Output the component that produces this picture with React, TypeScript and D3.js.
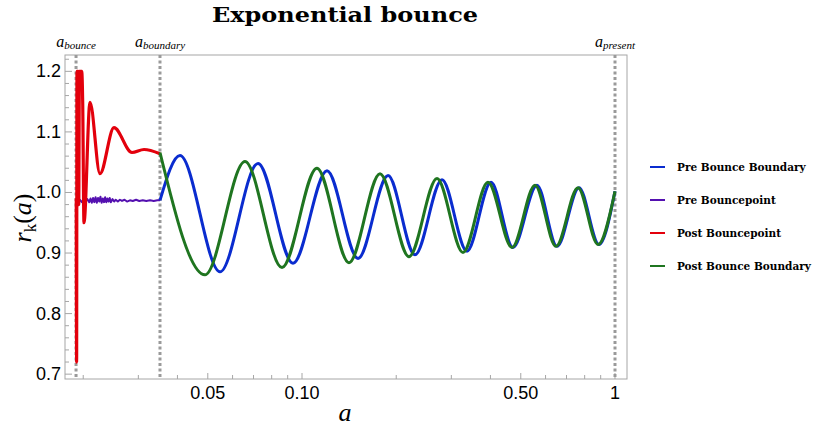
import React from "react";
import * as d3 from "d3";

// values (a on a log axis, r_k(a) on a linear one)
const preBoundaryA = [0.03518, 0.04075, 0.0547, 0.07237, 0.09359, 0.1202, 0.151, 0.1883, 0.2296, 0.2801, 0.3366, 0.4017, 0.4721, 0.5633, 0.6527, 0.7674, 0.8889, 1.0];
const preBoundaryR = [0.987, 1.061, 0.869, 1.048, 0.883, 1.036, 0.891, 1.028, 0.897, 1.021, 0.903, 1.017, 0.909, 1.012, 0.911, 1.008, 0.914, 1.002];

const postBoundaryA = [0.03518, 0.04898, 0.06574, 0.08631, 0.1116, 0.1413, 0.1775, 0.2197, 0.27, 0.3268, 0.3928, 0.4688, 0.5552, 0.6477, 0.7616, 0.8824, 1.0];
const postBoundaryR = [1.066, 0.864, 1.051, 0.876, 1.04, 0.884, 1.031, 0.894, 1.023, 0.901, 1.017, 0.909, 1.012, 0.911, 1.008, 0.914, 1.002];

const preBounceA = [0.01897, 0.0192, 0.0195, 0.0198, 0.02, 0.0203, 0.0206, 0.0209, 0.0211, 0.0213, 0.0215, 0.0217, 0.0219, 0.0221, 0.0223, 0.0225, 0.0227, 0.0229, 0.0231, 0.0233, 0.0235, 0.0237, 0.0239, 0.0241, 0.0243, 0.0245, 0.0248, 0.0251, 0.0254, 0.0258, 0.0262, 0.0266, 0.0271, 0.0276, 0.0282, 0.0288, 0.0295, 0.0302, 0.031, 0.0318, 0.0327, 0.0336, 0.0345, 0.03518];
const preBounceR = [0.988, 0.985, 0.988, 0.984, 0.987, 0.985, 0.989, 0.984, 0.990, 0.983, 0.991, 0.984, 0.992, 0.983, 0.991, 0.985, 0.993, 0.983, 0.990, 0.984, 0.992, 0.984, 0.990, 0.985, 0.991, 0.984, 0.989, 0.985, 0.988, 0.985, 0.988, 0.986, 0.988, 0.985, 0.987, 0.986, 0.988, 0.986, 0.987, 0.986, 0.987, 0.986, 0.987, 0.987];

const postBounceA = [0.019, 0.01905, 0.0191, 0.01925, 0.01935, 0.01945, 0.01978, 0.01992, 0.02011, 0.02102, 0.02262, 0.02508, 0.02863, 0.03128, 0.03518];
const postBounceR = [0.99, 0.72, 1.2, 1.2, 0.98, 1.2, 1.2, 1.15, 0.95, 1.149, 1.031, 1.107, 1.066, 1.071, 1.064];

const markerA = [0.01897, 0.03518, 1.0];
const markerSub = ["bounce", "boundary", "present"];

const seriesNames = ["Pre Bounce Boundary", "Pre Bouncepoint", "Post Bouncepoint", "Post Bounce Boundary"];
const seriesColors = ["#0a2ccf", "#5410b0", "#e3000c", "#1f7520"];

const xTickMajor = [0.05, 0.1, 0.5, 1];
const xTickLabels = ["0.05", "0.10", "0.50", "1"];
const xTickMinor = [0.02, 0.03, 0.04, 0.06, 0.07, 0.08, 0.09, 0.2, 0.3, 0.4, 0.6, 0.7, 0.8, 0.9];
const yTickMajor = [0.7, 0.8, 0.9, 1.0, 1.1, 1.2];

export default function App() {
  const width = 817;
  const height = 436;
  const left = 65, right = 627, top = 55, bottom = 379;

  const x = d3.scaleLog().domain([0.01749, 1.0923]).range([left, right]);
  const y = d3.scaleLinear().domain([0.692, 1.227]).range([bottom, top]);

  const yMinor = d3.range(0.7, 1.221, 0.02).filter((v) => Math.abs(v * 10 - Math.round(v * 10)) > 0.01);

  const smooth = d3.line<[number, number]>().x((d) => x(d[0])).y((d) => y(d[1])).curve(d3.curveMonotoneX);
  const straight = d3.line<[number, number]>().x((d) => x(d[0])).y((d) => y(d[1]));

  const zip = (a: number[], r: number[]) => a.map((v, i) => [v, r[i]] as [number, number]);

  const paths = [
    straight(zip(preBounceA, preBounceR)),
    smooth(zip(postBounceA, postBounceR)),
    smooth(zip(preBoundaryA, preBoundaryR)),
    smooth(zip(postBoundaryA, postBoundaryR)),
  ];
  const pathColors = [seriesColors[1], seriesColors[2], seriesColors[0], seriesColors[3]];
  const pathWidths = [2, 3.2, 3, 3];

  const axisColor = "#a6a6a6";
  const labelFont = "'Liberation Sans', Arial, sans-serif";
  const serif = "'Liberation Serif', 'DejaVu Serif', serif";

  return (
    <svg width={width} height={height} style={{ position: "absolute", left: 0, top: 0, background: "#fff" }}>
      <text x={345} y={22} textAnchor="middle" fontFamily="'DejaVu Serif', serif" fontWeight="bold" fontSize={21}
        textLength={266} lengthAdjust="spacingAndGlyphs">
        Exponential bounce
      </text>

      {/* frame */}
      <rect x={left} y={top} width={right - left} height={bottom - top} fill="none" stroke={axisColor} strokeWidth={1} />

      {/* y ticks */}
      {yTickMajor.map((v) => (
        <g key={"ym" + v}>
          <line x1={left} x2={left + 7} y1={y(v)} y2={y(v)} stroke={axisColor} />
          <text x={left - 4} y={y(v) + 6} textAnchor="end" fontFamily={labelFont} fontSize={18}>
            {v.toFixed(1)}
          </text>
        </g>
      ))}
      {yMinor.map((v) => (
        <line key={"yn" + v} x1={left} x2={left + 4} y1={y(v)} y2={y(v)} stroke={axisColor} />
      ))}

      {/* x ticks */}
      {xTickMajor.map((v, i) => (
        <g key={"xm" + v}>
          <line x1={x(v)} x2={x(v)} y1={bottom} y2={bottom - 6} stroke={axisColor} />
          <text x={x(v)} y={bottom + 20} textAnchor="middle" fontFamily={labelFont} fontSize={18}>
            {xTickLabels[i]}
          </text>
        </g>
      ))}
      {xTickMinor.map((v) => (
        <line key={"xn" + v} x1={x(v)} x2={x(v)} y1={bottom} y2={bottom - 4} stroke={axisColor} />
      ))}

      {/* axis labels */}
      <text x={345} y={421} textAnchor="middle" fontFamily={serif} fontStyle="italic" fontSize={26}>
        a
      </text>
      <text transform="translate(31,218) rotate(-90)" textAnchor="middle" fontFamily={serif} fontSize={26}>
        <tspan fontStyle="italic">r</tspan>
        <tspan fontSize={17} dy={5}>k</tspan>
        <tspan dy={-5}>(</tspan>
        <tspan fontStyle="italic">a</tspan>
        <tspan>)</tspan>
      </text>

      {/* marker lines */}
      {markerA.map((v, i) => (
        <g key={"mk" + v}>
          <line x1={x(v)} x2={x(v)} y1={top} y2={bottom} stroke="#9a9a9a" strokeWidth={3} strokeDasharray="3,2.5" />
          <text x={x(v)} y={47} textAnchor="middle" fontFamily={serif} fontStyle="italic" fontSize={16}>
            a<tspan fontSize={11} dy={2}>{markerSub[i]}</tspan>
          </text>
        </g>
      ))}

      {/* series */}
      {paths.map((d, i) => (
        <path key={"p" + i} d={d || ""} fill="none" stroke={pathColors[i]} strokeWidth={pathWidths[i]} strokeLinejoin="round" />
      ))}

      {/* legend */}
      {seriesNames.map((name, i) => (
        <g key={name} transform={`translate(650, ${167 + i * 33})`}>
          <line x1={0} x2={15} y1={0} y2={0} stroke={seriesColors[i]} strokeWidth={2} />
          <text x={27} y={4} fontFamily="'DejaVu Serif', serif" fontWeight="bold" fontSize={10.5}>
            {name}
          </text>
        </g>
      ))}
    </svg>
  );
}
